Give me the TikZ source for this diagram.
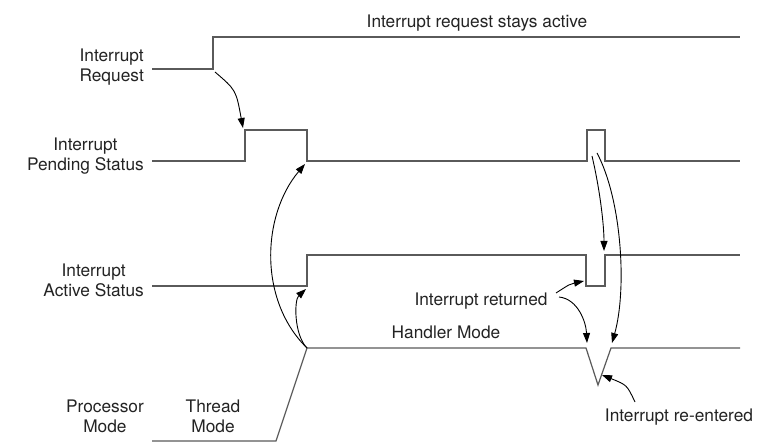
\documentclass[tikz,border=0pt]{standalone}
\usepackage{fontspec}
\setmainfont{TeX Gyre Heros}
\usetikzlibrary{arrows.meta}
\definecolor{sigline}{RGB}{90,90,90}
\definecolor{labeltext}{RGB}{35,35,35}

\begin{document}
\begin{tikzpicture}[scale=1.000000,x=1pt,y=1pt,
  signal/.style={color=sigline,line width=1.2pt},
  cause/.style={color=black,line width=0.9pt,-{Triangle[length=10pt,width=7pt]}},
  lbl/.style={color=labeltext,font=\fontsize{17.3}{20}\selectfont,inner sep=0pt,align=center}]
\useasboundingbox (0.000000, 0.000000) rectangle (777.000000, 447.000000);
\fill[color=white] (0.000000, 0.000000) rectangle (777.000000, 447.000000);
% Drawing signal names
\node[lbl,anchor=east] (reqname) at (144.000000, 380.000000) {Interrupt\\Request};
\node[lbl,anchor=east] (pendname) at (144.000000, 290.500000) {Interrupt\\Pending Status};
\node[lbl,anchor=east] (actname) at (144.000000, 166.500000) {Interrupt\\Active Status};
\node[lbl,anchor=east] (modename) at (144.000000, 30.500000) {Processor\\Mode};
% Drawing signals
% Signal 1: interrupt request
\draw[signal] (152.000000,378.000000) -- (213.000000,378.000000) -- (213.000000,410.000000) -- (740.000000,410.000000);
\coordinate (reqrise) at (215.000000, 375.000000);
% Signal 2: pending status, two pulses
\draw[signal] (152.000000,286.000000) -- (245.000000,286.000000) -- (245.000000,317.000000)
  -- (307.000000,317.000000) -- (307.000000,286.000000) -- (587.000000,286.000000)
  -- (587.000000,317.000000) -- (605.000000,317.000000) -- (605.000000,286.000000) -- (740.000000,286.000000);
\coordinate (pendrise) at (243.000000, 319.000000);
\coordinate (pendfall) at (305.000000, 283.000000);
\coordinate (pendagainA) at (592.000000, 291.000000);
\coordinate (pendagainB) at (597.000000, 294.000000);
% Signal 3: active status, dips when handler returns
\draw[signal] (152.000000,161.000000) -- (307.000000,161.000000) -- (307.000000,192.000000)
  -- (586.000000,192.000000) -- (586.000000,161.000000) -- (605.000000,161.000000)
  -- (605.000000,192.000000) -- (740.000000,192.000000);
\coordinate (actrise) at (306.000000, 158.000000);
\coordinate (actdip) at (584.000000, 166.000000);
\coordinate (actagain) at (604.000000, 196.000000);
% Signal 4: processor mode
\draw[signal] (152.000000,6.000000) -- (276.000000,6.000000) -- (307.000000,99.000000)
  -- (586.000000,99.000000) -- (598.000000,62.000000) -- (611.000000,99.000000) -- (740.000000,99.000000);
\coordinate (modeup) at (307.000000, 99.000000);
\coordinate (vleft) at (587.000000, 104.000000);
\coordinate (vright) at (612.000000, 104.000000);
\coordinate (vbottom) at (602.000000, 72.000000);
% Drawing labels
\node[lbl] (stays) at (477.000000, 424.000000) {Interrupt request stays active};
\node[lbl] (thread) at (213.000000, 30.500000) {Thread\\Mode};
\node[lbl] (handler) at (446.000000, 115.000000) {Handler Mode};
\node[lbl] (returned) at (481.000000, 146.000000) {Interrupt returned};
\node[lbl] (reentered) at (679.000000, 30.000000) {Interrupt re-entered};
\coordinate (retout) at (556.000000, 154.000000);
\coordinate (retdown) at (559.000000, 150.000000);
\coordinate (reout) at (635.000000, 45.000000);
% Drawing cause arrows
\draw[cause] (reqrise) .. controls (236.000000,357.000000) .. (pendrise);
\draw[cause] (modeup) .. controls (258.000000,147.000000) and (262.000000,232.000000) .. (pendfall);
\draw[cause] (modeup) .. controls (294.000000,112.000000) and (294.000000,147.000000) .. (actrise);
\draw[cause] (pendagainA) .. controls (600.000000,257.000000) and (604.000000,222.000000) .. (actagain);
\draw[cause] (pendagainB) .. controls (622.000000,247.000000) and (627.000000,157.000000) .. (vright);
\draw[cause] (retout) .. controls (570.000000,163.000000) .. (actdip);
\draw[cause] (retdown) .. controls (578.000000,148.000000) and (586.000000,125.000000) .. (vleft);
\draw[cause] (reout) .. controls (627.000000,62.000000) .. (vbottom);
% Done with arrows
\end{tikzpicture}
\end{document}
